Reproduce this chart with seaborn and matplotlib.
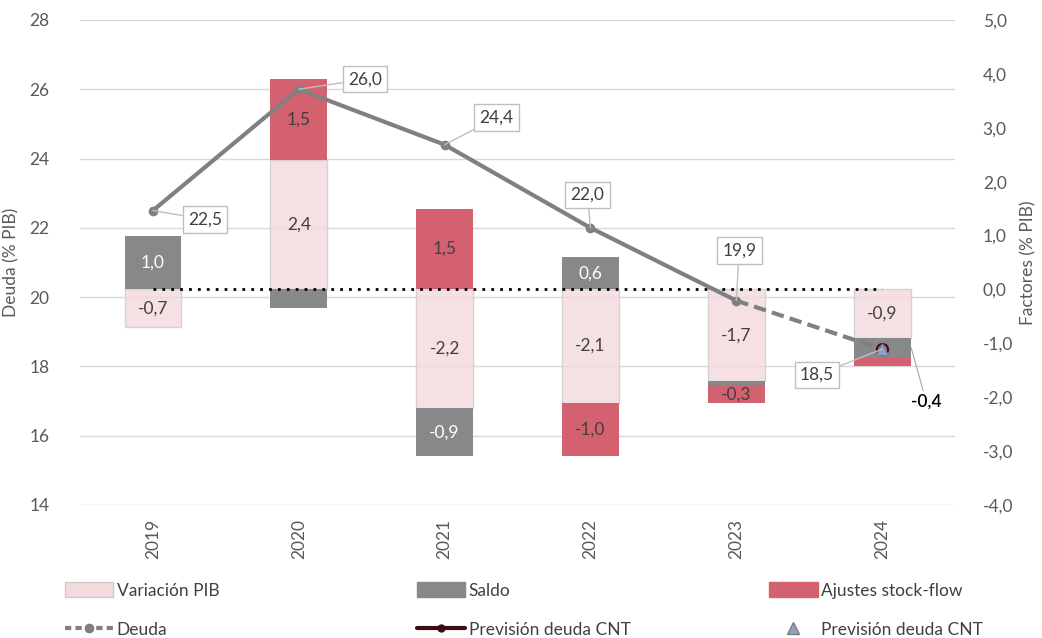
import numpy as np
import seaborn as sns
import matplotlib.pyplot as plt
from matplotlib.lines import Line2D
from matplotlib.patches import Patch
from matplotlib.ticker import FuncFormatter, MultipleLocator

# datos (% PIB)
years = ["2019", "2020", "2021", "2022", "2023", "2024"]
variacion_pib = [-0.7, 2.4, -2.2, -2.1, -1.7, -0.9]
saldo = [1.0, -0.35, -0.9, 0.6, -0.08, -0.37]
ajustes = [0.0, 1.5, 1.5, -1.0, -0.33, -0.15]
deuda = [22.5, 26.0, 24.4, 22.0, 19.9, 18.5]
prevision_cnt = 18.5

var_labels = ["-0,7", "2,4", "-2,2", "-2,1", "-1,7", "-0,9"]
saldo_labels = ["1,0", "", "-0,9", "0,6", "", ""]
ajustes_labels = ["", "1,5", "1,5", "-1,0", "-0,3", ""]

PINK = "#F3DADD"
GREY = "#87888A"
RED = "#D46170"
LINE = "#808080"
TXT = "#404040"

sns.set_style("white")
plt.rcParams["font.family"] = ["Lato", "DejaVu Sans"]

fig = plt.figure(figsize=(10.42, 6.38), dpi=100)
ax1 = fig.add_axes([0.0768, 0.2085, 0.8397, 0.7602])
ax2 = ax1.twinx()

n = len(years)
pos = np.arange(n)

# barras apiladas (eje derecho)
series = [
    ("Variación PIB", variacion_pib, PINK, "#CFCACB", 1, var_labels, TXT, 0.8),
    ("Saldo", saldo, GREY, "none", 0, saldo_labels, "white", 1.0),
    ("Ajustes stock-flow", ajustes, RED, "none", 0, ajustes_labels, TXT, 1.0),
]
pos_base = np.zeros(n)
neg_base = np.zeros(n)
for name, vals, col, edge, lw, labels, tcol, alpha in series:
    vals = np.array(vals)
    bottom = np.where(vals >= 0, pos_base, neg_base)
    sns.barplot(x=years, y=vals, bottom=bottom, ax=ax2, color=col, saturation=1,
                width=0.39, edgecolor=edge, linewidth=lw, alpha=alpha)
    for i, lab in enumerate(labels):
        if lab:
            ax2.text(i, bottom[i] + vals[i] / 2, lab, ha="center", va="center",
                     fontsize=12.5, color=tcol)
    pos_base = np.where(vals >= 0, pos_base + vals, pos_base)
    neg_base = np.where(vals < 0, neg_base + vals, neg_base)

# etiqueta saldo 2024
i = n - 1
ax2.annotate("-0,4", xy=(i + 0.2, variacion_pib[i] + saldo[i] / 2),
             xytext=(15, -54), textcoords="offset pixels", ha="center", va="center",
             fontsize=12.5, color="black", fontweight="semibold",
             arrowprops=dict(arrowstyle="-", color="#A6A6A6", lw=0.8, shrinkA=0, shrinkB=0))

# línea de cero
ax2.hlines(0, pos[0], pos[-1], colors="black", linestyles=(0, (1, 2.2)), lw=2, zorder=5)

# deuda (eje izquierdo, dibujada encima de las barras)
tr = ax1.transData
sns.lineplot(x=pos[:5], y=deuda[:5], ax=ax2, color=LINE, lw=3, marker="o",
             markersize=7, markeredgewidth=0, transform=tr, zorder=6)
sns.lineplot(x=pos[4:], y=deuda[4:], ax=ax2, color=LINE, lw=3, linestyle=(0, (3, 1.5)),
             transform=tr, zorder=6)
ax2.plot(pos[-1], prevision_cnt, "o", ms=8, mfc="none", mec="#3D0A16", mew=1.5,
         transform=tr, zorder=7)
ax2.plot(pos[-1], prevision_cnt, "^", ms=8, mfc="#8EA2C8", mec="#7F7F7F", mew=0.8,
         transform=tr, zorder=8)

offsets = [(52, -9), (66, 10), (52, 27), (-3, 33), (3, 50), (-65, -26)]
for i, (d, off) in enumerate(zip(deuda, offsets)):
    ax2.annotate(f"{d:.1f}".replace(".", ","), xy=(i, d), xycoords=tr,
                 xytext=off, textcoords="offset pixels", ha="center", va="center",
                 fontsize=12.5, color=TXT, zorder=9,
                 bbox=dict(boxstyle="square,pad=0.3", fc="white", ec="#BFBFBF", lw=1),
                 arrowprops=dict(arrowstyle="-", color="#BFBFBF", lw=1, shrinkA=0, shrinkB=0))

# ejes
ax1.set_ylim(14, 28)
ax1.yaxis.set_major_locator(MultipleLocator(2))
ax2.set_ylim(-4, 5)
ax2.yaxis.set_major_locator(MultipleLocator(1))
ax2.yaxis.set_major_formatter(FuncFormatter(lambda v, p: f"{v:.1f}".replace(".", ",")))
ax1.set_xlim(-0.5, n - 0.5)
ax2.set_xlim(-0.5, n - 0.5)
ax1.set_xticks(pos)
ax1.set_xticklabels(years, rotation=90)
ax1.grid(axis="y", color="#D9D9D9", lw=1)
ax1.grid(axis="x", visible=False)
ax2.grid(False)
for a in (ax1, ax2):
    for s in a.spines.values():
        s.set_visible(False)
    a.tick_params(length=0, labelsize=12.5, labelcolor="#595959")
ax1.tick_params(axis="y", pad=22)
ax2.tick_params(axis="y", pad=20)
ax1.tick_params(axis="x", pad=10)
ax2.set_xlabel("")
ax1.set_xlabel("")
ax1.set_ylabel("Deuda (% PIB)", fontsize=12.5, color="#595959")
ax2.set_ylabel("Factores (% PIB)", fontsize=12.5, color="#595959")
ax1.yaxis.set_label_coords(-0.069, 0.5)
ax2.yaxis.set_label_coords(1.075, 0.5)

# leyenda
cols = [
    [Patch(fc=PINK, ec="#CFCACB", label="Variación PIB"),
     Line2D([], [], color=LINE, lw=3, ls=(0, (1.5, 1)), marker="o", ms=6, label="Deuda")],
    [Patch(fc=GREY, ec=GREY, label="Saldo"),
     Line2D([], [], color="#3D0A16", lw=3, marker="o", ms=5, label="Previsión deuda CNT")],
    [Patch(fc=RED, ec=RED, label="Ajustes stock-flow"),
     Line2D([], [], ls="none", marker="^", ms=8, mfc="#8EA2C8", mec="#7F7F7F",
            label="Previsión deuda CNT")],
]
for x0, hs in zip([0.062, 0.4, 0.738], cols):
    fig.legend(handles=hs, loc="upper left", bbox_to_anchor=(x0, 0.088), frameon=False,
               fontsize=12.5, labelcolor=TXT, handlelength=2.8, handleheight=1.0,
               handletextpad=0.2, labelspacing=1.3, borderpad=0, borderaxespad=0)

fig.savefig("out.png", dpi=100)
